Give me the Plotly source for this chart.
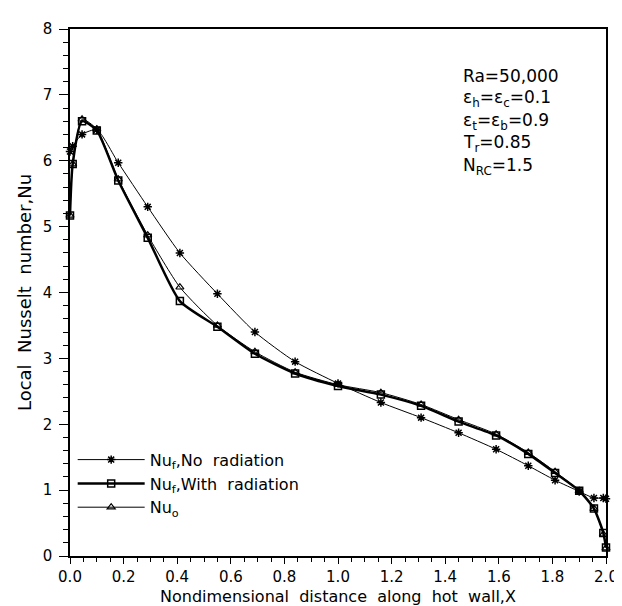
import plotly.graph_objects as go

# Data
x_pts = [0.0, 0.01, 0.045, 0.10, 0.18, 0.29, 0.41, 0.55, 0.69, 0.84, 1.00,
         1.16, 1.31, 1.45, 1.59, 1.71, 1.81, 1.90, 1.955, 1.99, 2.0]

nu_no_rad = [6.14, 6.22, 6.40, 6.47, 5.97, 5.30, 4.60, 3.98, 3.40, 2.95, 2.62,
             2.33, 2.10, 1.87, 1.62, 1.37, 1.15, 0.98, 0.88, 0.88, 0.87]

nu_with_rad = [5.17, 5.95, 6.60, 6.46, 5.70, 4.83, 3.87, 3.48, 3.07, 2.77, 2.58,
               2.45, 2.28, 2.04, 1.83, 1.55, 1.26, 0.99, 0.72, 0.35, 0.13]

nu_o = [5.17, 5.95, 6.63, 6.48, 5.72, 4.87, 4.08, 3.50, 3.10, 2.79, 2.60,
        2.48, 2.30, 2.07, 1.85, 1.57, 1.28, 0.99, 0.72, 0.33, 0.12]

x_ticks = [0.0, 0.2, 0.4, 0.6, 0.8, 1.0, 1.2, 1.4, 1.6, 1.8, 2.0]
x_tick_labels = ["0.0", "0.2", "0.4", "0.6", "0.8", "1.0", "1.2", "1.4", "1.6", "1.8", "2.0"]
y_ticks = [0, 1, 2, 3, 4, 5, 6, 7, 8]

info_lines = ["Ra=50,000",
              "ε<sub>h</sub>=ε<sub>c</sub>=0.1",
              "ε<sub>t</sub>=ε<sub>b</sub>=0.9",
              "T<sub>r</sub>=0.85",
              "N<sub>RC</sub>=1.5"]

FONT = "DejaVu Sans"
SP = "\u00a0\u00a0"  # wide word gaps as in the plotter lettering

fig = go.Figure()
fig.add_trace(go.Scatter(
    x=x_pts, y=nu_no_rad, mode="lines+markers", name="Nu<sub>f</sub>,No" + SP + "radiation",
    line=dict(color="black", width=1, shape="spline", smoothing=0.6),
    marker=dict(symbol="asterisk-open", size=7, color="black", line=dict(width=1.5, color="black")),
    cliponaxis=False))
fig.add_trace(go.Scatter(
    x=x_pts, y=nu_with_rad, mode="lines+markers", name="Nu<sub>f</sub>,With" + SP + "radiation",
    line=dict(color="black", width=2.5, shape="spline", smoothing=0.6),
    marker=dict(symbol="square-open", size=7, color="black", line=dict(width=1.5, color="black")),
    cliponaxis=False))
fig.add_trace(go.Scatter(
    x=x_pts, y=nu_o, mode="lines+markers", name="Nu<sub>o</sub>",
    line=dict(color="black", width=1, shape="spline", smoothing=0.6),
    marker=dict(symbol="triangle-up-open", size=7, color="black", line=dict(width=1.2, color="black")),
    cliponaxis=False))

y0 = 0.91
for i, t in enumerate(info_lines):
    fig.add_annotation(x=0.73, y=y0 - i * 0.0425, xref="paper", yref="paper",
                       text=t, showarrow=False, xanchor="left", yanchor="middle",
                       font=dict(family=FONT, size=17, color="black"))

# x-axis title placed as a text under the tick labels
fig.add_annotation(x=0.5, y=0, xref="paper", yref="paper", yanchor="top", yshift=-29,
                   text=SP.join(["Nondimensional", "distance", "along", "hot", "wall,X"]),
                   showarrow=False, font=dict(family=FONT, size=16, color="black"))

fig.update_layout(
    width=622, height=606,
    margin=dict(l=62, r=23, t=16, b=58),
    paper_bgcolor="white", plot_bgcolor="white",
    font=dict(family=FONT, size=15, color="black"),
    showlegend=True,
    legend=dict(x=0.005, y=0.215, xanchor="left", yanchor="top",
                bgcolor="rgba(0,0,0,0)", font=dict(family=FONT, size=16, color="black"),
                itemwidth=67, tracegroupgap=0),
    xaxis=dict(range=[0, 2.0], tickvals=x_ticks, ticktext=x_tick_labels,
               ticks="outside", ticklen=6, tickwidth=1.2, tickcolor="black",
               showline=True, linecolor="black", linewidth=1.5, mirror=True,
               showgrid=False, zeroline=False,
               minor=dict(dtick=0.05, ticks="outside", ticklen=4, tickcolor="black", tickwidth=1),
               tickfont=dict(family=FONT, size=15)),
    yaxis=dict(range=[0, 8], tickvals=y_ticks,
               ticks="outside", ticklen=9, tickwidth=1.2, tickcolor="black",
               ticklabelstandoff=4,
               showline=True, linecolor="black", linewidth=1.5, mirror=True,
               showgrid=False, zeroline=False,
               minor=dict(dtick=0.2, ticks="outside", ticklen=5, tickcolor="black", tickwidth=1),
               tickfont=dict(family=FONT, size=15),
               title=dict(text=SP.join(["Local", "Nusselt", "number,Nu"]),
                          font=dict(family=FONT, size=18), standoff=6)),
)

fig.write_html("out.html")
